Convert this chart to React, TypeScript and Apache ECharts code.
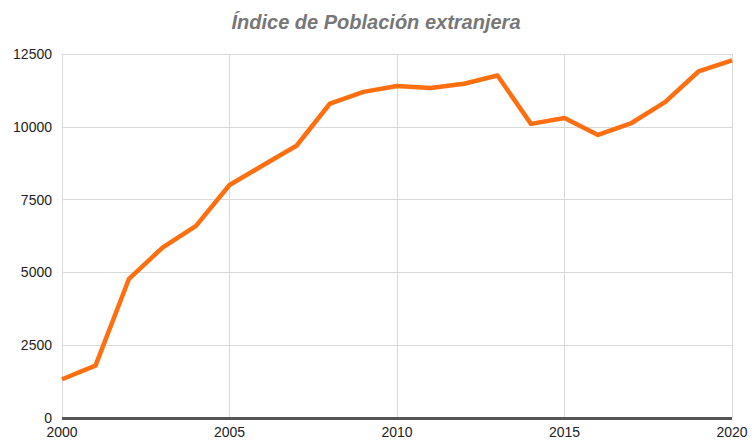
import React, { useEffect, useRef } from "react";
import * as echarts from "echarts";

const years = [2000, 2001, 2002, 2003, 2004, 2005, 2006, 2007, 2008, 2009, 2010, 2011, 2012, 2013, 2014, 2015, 2016, 2017, 2018, 2019, 2020];
const values = [1330, 1800, 4780, 5850, 6600, 8000, 8680, 9350, 10800, 11200, 11400, 11330, 11480, 11760, 10100, 10300, 9720, 10130, 10850, 11900, 12280];
const titleText = "Índice de Población extranjera";

export default function App() {
  const ref = useRef<HTMLDivElement>(null);
  useEffect(() => {
    if (!ref.current) return;
    const chart = echarts.init(ref.current, null, { renderer: "svg" });
    chart.setOption({
      animation: false,
      title: {
        text: titleText,
        left: "center",
        top: 7,
        textStyle: {
          fontFamily: "Liberation Sans, Arial, sans-serif",
          fontStyle: "italic",
          fontWeight: "bold",
          fontSize: 20,
          color: "#777777",
        },
      },
      grid: { left: 62, right: 20, top: 54, bottom: 22, containLabel: false },
      xAxis: {
        type: "value",
        min: 2000,
        max: 2020,
        interval: 5,
        axisLine: { show: false },
        axisTick: { show: false },
        splitLine: { show: true, lineStyle: { color: "#d9d9d9", width: 1 } },
        axisLabel: {
          margin: 7,
          color: "#222222",
          fontSize: 14,
          fontFamily: "Liberation Sans, Arial, sans-serif",
          formatter: (v: number) => String(v),
        },
      },
      yAxis: {
        type: "value",
        min: 0,
        max: 12500,
        interval: 2500,
        axisLine: { show: false },
        axisTick: { show: false },
        splitLine: { show: true, lineStyle: { color: "#d9d9d9", width: 1 } },
        axisLabel: {
          margin: 10,
          color: "#222222",
          fontSize: 14,
          fontFamily: "Liberation Sans, Arial, sans-serif",
          formatter: (v: number) => String(v),
        },
      },
      series: [
        {
          type: "line",
          data: years.map((y, i) => [y, values[i]]),
          showSymbol: false,
          lineStyle: { color: "#FF6F0F", width: 4.5, join: "round" },
          z: 3,
          markLine: {
            silent: true,
            symbol: "none",
            label: { show: false },
            lineStyle: { color: "#555555", width: 3, type: "solid" },
            data: [{ yAxis: 0 }],
            z: 4,
          },
        },
      ],
    });
    return () => chart.dispose();
  }, []);
  return <div ref={ref} style={{ width: 752, height: 440, position: "absolute", left: 0, top: 0 }} />;
}
